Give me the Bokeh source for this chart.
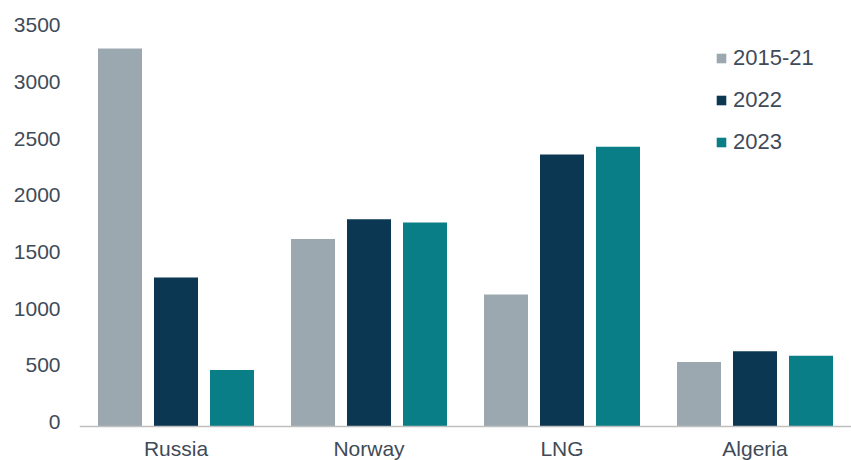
from bokeh.plotting import figure
from bokeh.models import Range1d, FixedTicker, Legend, LegendItem, ColumnDataSource, LinearAxis
from bokeh.transform import dodge
from bokeh.embed import file_html
from bokeh.resources import INLINE

categories = ["Russia", "Norway", "LNG", "Algeria"]
series_names = ["2015-21", "2022", "2023"]
v_2015_21 = [3330, 1650, 1160, 565]
v_2022 = [1310, 1825, 2395, 660]
v_2023 = [495, 1795, 2465, 620]
y_ticks = [0, 500, 1000, 1500, 2000, 2500, 3000, 3500]
colors = ["#9CA8B0", "#0B3752", "#0A7E87"]

FONT = "Liberation Sans"
TXT = "#3F4B58"

x_pos = [i + 0.5 for i in range(len(categories))]
src = ColumnDataSource(dict(x=x_pos, s0=v_2015_21, s1=v_2022, s2=v_2023))

W, H = 851, 460
LEFT = 79
group_px = 193.0
frame_w = W - LEFT
px_per_unit_y = 0.11333
base_canvas = 425.5
y_start = -(H - base_canvas) / px_per_unit_y
y_end = base_canvas / px_per_unit_y
label_lift = 4.0 / px_per_unit_y  # tick labels sit slightly above their values, as in the reference

p = figure(width=W, height=H, output_backend="svg", toolbar_location=None,
           x_range=Range1d(0, frame_w / group_px),
           y_range=Range1d(y_start, y_end),
           y_axis_location=None,
           min_border_left=LEFT, min_border_right=0, min_border_top=0, min_border_bottom=0)
p.extra_y_ranges = {"lbl": Range1d(y_start - label_lift, y_end - label_lift)}
p.outline_line_color = None
p.grid.visible = False
p.background_fill_color = "white"
p.border_fill_color = "white"

bw = 44 / group_px
off = 56 / group_px
renderers = []
for i, (col, c) in enumerate(zip(["s0", "s1", "s2"], colors)):
    r = p.vbar(x=dodge("x", (i - 1) * off), top=col, width=bw, bottom=0, source=src,
               fill_color=c, line_color=None)
    renderers.append(r)

# y axis
ya = LinearAxis(y_range_name="lbl")
ya.ticker = FixedTicker(ticks=y_ticks)
ya.axis_line_color = None
ya.major_tick_line_color = None
ya.major_tick_out = 0
ya.major_tick_in = 0
ya.minor_tick_line_color = None
ya.major_label_standoff = 19
ya.major_label_text_font = FONT
ya.major_label_text_font_size = "21px"
ya.major_label_text_color = TXT
p.add_layout(ya, "left")

# x axis
xa = p.xaxis[0]
xa.fixed_location = 0
xa.ticker = FixedTicker(ticks=x_pos)
xa.major_label_overrides = {x: n for x, n in zip(x_pos, categories)}
xa.axis_line_color = "#BFBFBF"
xa.axis_line_width = 1.3
xa.major_tick_line_color = None
xa.major_tick_out = 0
xa.major_tick_in = 0
xa.minor_tick_line_color = None
xa.major_label_standoff = 11
xa.major_label_text_font = FONT
xa.major_label_text_font_size = "21px"
xa.major_label_text_color = TXT

legend = Legend(items=[LegendItem(label=n, renderers=[r]) for n, r in zip(series_names, renderers)],
                location=(636, 305), orientation="vertical",
                glyph_width=12, glyph_height=12, label_height=22, label_standoff=6,
                spacing=16, padding=0, margin=0,
                border_line_color=None, background_fill_alpha=0,
                label_text_font=FONT, label_text_font_size="22px", label_text_color=TXT)
p.add_layout(legend, "center")

open("out.html", "w").write(file_html(p, INLINE))
